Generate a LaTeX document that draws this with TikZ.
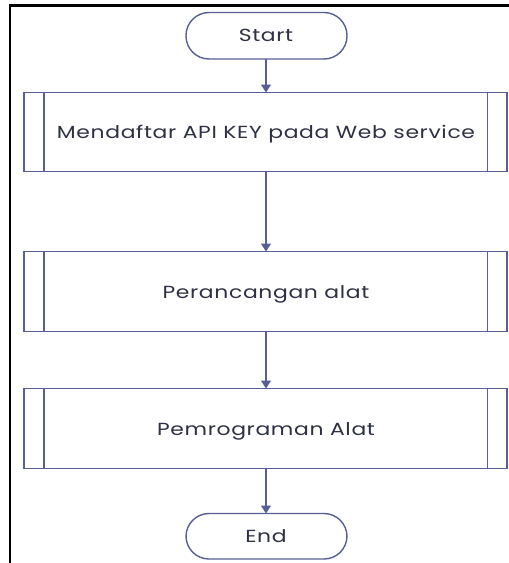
\documentclass[tikz,border=0pt]{standalone}
\usepackage{fontspec}
\setmainfont[LetterSpace=3]{Poppins}
\usetikzlibrary{arrows.meta}
\definecolor{flowline}{RGB}{88,94,150}
\definecolor{flowtext}{RGB}{46,48,68}
\newcommand{\widetext}[1]{\scalebox{1.25}[1]{#1}}
\tikzset{
  terminal/.style={draw=flowline, line width=1.4pt, rounded corners=23pt, fill=white},
  procbox/.style={draw=flowline, line width=1.4pt, fill=white},
  flowarrow/.style={draw=flowline, line width=1.1pt, -{Triangle[width=10pt,length=8pt]}},
  label/.style={text=flowtext, font=\fontsize{17.5}{19}\selectfont, inner sep=0pt, anchor=base}
}
\begin{document}
\begin{tikzpicture}[x=1pt, y=-1pt]
\useasboundingbox (0,0) rectangle (509,563);
% outer frame (top and left edges only)
\draw[black, line width=2.6pt] (509,5.5) -- (10,5.5) -- (10,563);

% start / end terminals
\draw[terminal] (186,12.5) rectangle (347,59);
\node[label] (start) at (266,41.3) {\widetext{Start}};
\coordinate (startB) at (266,59);
\draw[terminal] (186,513.5) rectangle (347,559);
\node[label] (finish) at (266,542.3) {\widetext{End}};
\coordinate (endT) at (266,513.5);

% predefined-process boxes
\foreach \t/\b/\n in {92.5/171.5/one, 251.5/331.5/two, 388.5/468.5/three}{
  \draw[procbox] (24,\t) rectangle (507,\b);
  \draw[procbox] (44,\t) -- (44,\b);
  \draw[procbox] (487.5,\t) -- (487.5,\b);
  \coordinate (\n T) at (266,\t);
  \coordinate (\n B) at (266,\b);
}
\node[label] (p1) at (266,138.3) {\widetext{Mendaftar API KEY pada Web service}};
\node[label] (p2) at (266,298.3) {\widetext{Perancangan alat}};
\node[label] (p3) at (266,435) {\widetext{Pemrograman Alat}};

% connectors
\draw[flowarrow] (startB) -- (oneT);
\draw[flowarrow] (oneB) -- (twoT);
\draw[flowarrow] (twoB) -- (threeT);
\draw[flowarrow] (threeB) -- (endT);
\end{tikzpicture}
\end{document}
